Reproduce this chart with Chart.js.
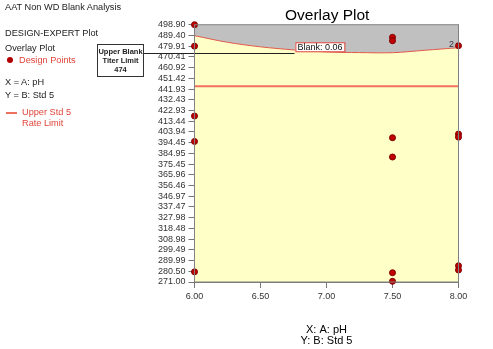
<!DOCTYPE html>
<html>
<head>
<meta charset="utf-8">
<script src="https://cdn.jsdelivr.net/npm/chart.js@4.4.1/dist/chart.umd.min.js"></script>
<style>
  body { margin: 0; background: #fff; font-family: Arial, "Liberation Sans", sans-serif; }
  #wrap { position: relative; width: 493px; height: 349px; }
  .t { position: absolute; white-space: nowrap; font-size: 9.2px; line-height: 10px; color: #222; }
  .red { color: #e0453a; }
  #titer { position: absolute; left: 97px; top: 44px; width: 45px; height: 29px; border: 1px solid #333;
           background: #fff; font-size: 7.5px; font-weight: bold; line-height: 9px; text-align: center;
           padding-top: 2px; color: #222; white-space: nowrap; }
</style>
</head>
<body>
<div id="wrap">
  <canvas id="canvas" width="493" height="349"></canvas>
  <div class="t" style="left:5px;top:2px">AAT Non WD Blank Analysis</div>
  <div class="t" style="left:5px;top:28px">DESIGN-EXPERT Plot</div>
  <div class="t" style="left:5px;top:43px">Overlay Plot</div>
  <div style="position:absolute;left:7px;top:57px;width:6px;height:6px;border-radius:3px;background:#b00000"></div>
  <div class="t red" style="left:19px;top:55px">Design Points</div>
  <div class="t" style="left:5px;top:77px">X = A: pH</div>
  <div class="t" style="left:5px;top:90px">Y = B: Std 5</div>
  <div style="position:absolute;left:6px;top:112px;width:11px;height:2px;background:#f07060"></div>
  <div class="t red" style="left:22px;top:107px">Upper Std 5</div>
  <div class="t red" style="left:22px;top:118px">Rate Limit</div>
  <div id="titer">Upper Blank<br>Titer Limit<br>474</div>
  <div class="t" style="left:285px;top:7px;font-size:15.5px;line-height:16px;color:#000">Overlay Plot</div>
</div>
<script>
const canvas = document.getElementById('canvas');
const ctx = canvas.getContext('2d');

// design points (x = pH, y = Std 5)
const pointX = [6, 6, 6, 6, 6, 7.5, 7.5, 7.5, 7.5, 7.5, 7.5, 8, 8, 8, 8, 8];
const pointY = [498.9, 479.9, 418.0, 395.5, 280.0, 487.7, 484.7, 398.8, 381.7, 279.2, 271.6, 480.3, 402.0, 399.3, 285.4, 281.6];

// Blank = 0.06 contour, region above it is shaded
const curveX = [6, 6.25, 6.5, 6.75, 7, 7.25, 7.5, 7.75, 8];
const curveY = [489.2, 483.3, 479.3, 476.6, 474.8, 474.2, 474.1, 476.3, 478.5];

const rateLimit = 444.3;   // Upper Std 5 Rate Limit
const titerLimit = 474;    // Upper Blank Titer Limit

const xTicks = [6, 6.5, 7, 7.5, 8];
const yTicks = [498.90, 489.40, 479.91, 470.41, 460.92, 451.42, 441.93, 432.43, 422.93, 413.44,
  403.94, 394.45, 384.95, 375.45, 365.96, 356.46, 346.97, 337.47, 327.98, 318.48,
  308.98, 299.49, 289.99, 280.50, 271.00];

const plotFrame = {
  id: 'plotFrame',
  beforeDraw(chart) {
    const a = chart.chartArea, c = chart.ctx;
    c.save();
    c.fillStyle = '#ffffc8';
    c.fillRect(a.left, a.top, a.right - a.left, a.bottom - a.top);
    c.restore();
  },
  afterDatasetsDraw(chart) {
    const a = chart.chartArea, c = chart.ctx;
    const xs = chart.scales.x, ys = chart.scales.y;
    c.save();
    // titer limit line from the label box
    const ty = Math.round(ys.getPixelForValue(titerLimit)) + 0.5;
    c.strokeStyle = '#222';
    c.lineWidth = 1;
    c.beginPath();
    c.moveTo(142, ty);
    c.lineTo(a.left + 100, ty);
    c.stroke();
    // frame
    c.strokeStyle = '#808080';
    c.strokeRect(a.left, a.top, a.right - a.left, a.bottom - a.top);
    // contour label
    const bx = xs.getPixelForValue(6.95), by = ys.getPixelForValue(478.9);
    c.font = '9px Arial';
    c.textAlign = 'center';
    c.textBaseline = 'middle';
    const w = c.measureText('Blank: 0.06').width + 4;
    c.fillStyle = '#fff';
    c.fillRect(bx - w / 2, by - 4.5, w, 9);
    c.strokeStyle = '#e0453a';
    c.strokeRect(bx - w / 2 + 0.5, by - 4.5, w, 9);
    c.fillStyle = '#111';
    c.fillText('Blank: 0.06', bx, by);
    c.fillStyle = '#334';
    c.fillText('2', xs.getPixelForValue(8) - 7, ys.getPixelForValue(481.5));
    c.restore();
  }
};

new Chart(ctx, {
  type: 'scatter',
  data: {
    datasets: [
      {
        label: 'Design Points',
        data: pointX.map((x, i) => ({ x: x, y: pointY[i] })),
        backgroundColor: '#c00000',
        borderColor: '#800000',
        borderWidth: 1,
        pointRadius: 3,
        clip: false,
        order: 0
      },
      {
        type: 'line',
        label: 'Upper Std 5 Rate Limit',
        data: [{ x: 6, y: rateLimit }, { x: 8, y: rateLimit }],
        borderColor: '#f07060',
        borderWidth: 2,
        pointRadius: 0,
        fill: false,
        order: 1
      },
      {
        type: 'line',
        label: 'Blank',
        data: curveX.map((x, i) => ({ x: x, y: curveY[i] })),
        borderColor: '#e05a4e',
        borderWidth: 1,
        backgroundColor: '#c0c0c0',
        pointRadius: 0,
        tension: 0.3,
        fill: 'end',
        order: 2
      }
    ]
  },
  options: {
    responsive: false,
    animation: false,
    layout: { padding: { left: 154.5, top: 24.7, right: 34.5, bottom: 0 } },
    plugins: {
      legend: { display: false },
      tooltip: { enabled: false }
    },
    scales: {
      x: {
        type: 'linear',
        min: 6,
        max: 8,
        afterBuildTicks: s => { s.ticks = xTicks.map(v => ({ value: v })); },
        afterFit: s => { s.height = 67; },
        ticks: {
          callback: v => v.toFixed(2),
          font: { family: 'Arial', size: 9 },
          color: '#333',
          padding: 3,
          maxRotation: 0
        },
        grid: { drawOnChartArea: false, tickLength: 6, color: '#777' },
        border: { color: '#777' },
        title: {
          display: true,
          text: ['X: A: pH', 'Y: B: Std 5'],
          font: { family: 'Arial', size: 11, lineHeight: 1 },
          color: '#000',
          padding: { top: 0, bottom: 2.5 }
        }
      },
      y: {
        min: 271,
        max: 498.9,
        afterBuildTicks: s => { s.ticks = yTicks.map(v => ({ value: v })); },
        afterFit: s => { s.width = 40; },
        ticks: {
          callback: v => v.toFixed(2),
          font: { family: 'Arial', size: 9 },
          color: '#333',
          padding: 3,
          autoSkip: false
        },
        grid: { drawOnChartArea: false, tickLength: 6, color: '#777' },
        border: { color: '#777' }
      }
    }
  },
  plugins: [plotFrame]
});
</script>
</body>
</html>
